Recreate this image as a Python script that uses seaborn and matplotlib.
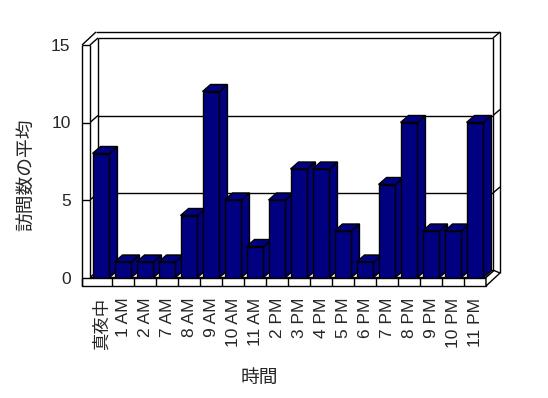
import matplotlib
matplotlib.use("Agg")
import matplotlib.pyplot as plt
import seaborn as sns
import pandas as pd
from matplotlib.patches import Polygon

hours = ['真夜中', '1 AM', '2 AM', '7 AM', '8 AM', '9 AM', '10 AM', '11 AM',
         '2 PM', '3 PM', '4 PM', '5 PM', '6 PM', '7 PM', '8 PM', '9 PM',
         '10 PM', '11 PM']
visits = [8, 1, 1, 1, 4, 12, 5, 2, 5, 7, 7, 3, 1, 6, 10, 3, 3, 10]
yticks = [0, 5, 10, 15]
xlabel = '時間'
ylabel = '訪問数の平均'

sns.set_style('white')
plt.rcParams['font.family'] = ['Liberation Sans', 'Noto Sans CJK JP', 'DejaVu Sans']

W, H = 548, 398
fig = plt.figure(figsize=(W / 100, H / 100), dpi=100)
ax_l, ax_r, ax_b, ax_t = 90, 486, 277.5, 45
ax = fig.add_axes([ax_l / W, (H - ax_b) / H, (ax_r - ax_l) / W, (ax_b - ax_t) / H])

df = pd.DataFrame({'hour': hours, 'visits': visits})
sns.barplot(data=df, x='hour', y='visits', color='#000080', saturation=1,
            width=0.77, edgecolor='black', linewidth=1, ax=ax)
bars = list(ax.patches)

x0, x1 = -0.5, len(hours) - 0.5
y0, y1 = 0, 15
ax.set_xlim(x0, x1)
ax.set_ylim(y0, y1)
ux = (x1 - x0) / (ax_r - ax_l)
uy = (y1 - y0) / (ax_b - ax_t)


def P(x, y, ox=0.0, oy=0.0):
    return (x + ox * ux, y + oy * uy)


def line(a, b, z=0.5):
    ax.plot([a[0], b[0]], [a[1], b[1]], color='black', lw=1,
            clip_on=False, zorder=z, solid_capstyle='butt')


DX, DY = 8, 7
F = 8.5
# back wall & gridlines
line(P(x0, y1, DX, DY), P(x0, y0, DX, DY))
line(P(x0, y1, DX, DY), P(x1, y1, DX - 1, DY))
line(P(x0, y1, 6, 13), P(x1, y1, 14, 13))
line(P(x1, y1, DX - 1, DY), P(x1, y1, 14, 13))
line(P(x1, y1, DX - 1, DY), P(x1, y0, DX - 1, DY))
line(P(x1, y1, 14, 13), P(x1, y0, 14, 4.5))
for v in yticks[1:-1]:
    line(P(x0, v), P(x0, v, DX, DY))
    line(P(x0, v, DX, DY), P(x1, v, DX - 1, DY))
    line(P(x1, v, DX - 1, DY), P(x1, v, 14, 13))

# floor top (behind bars)
ax.add_patch(Polygon([P(x0, y0), P(x1, y0), P(x1, y0, DX, DY), P(x0, y0, DX, DY)],
                     closed=True, facecolor='white', edgecolor='black', lw=1,
                     clip_on=False, zorder=0.8))

# 3D faces of bars
for i, b in enumerate(bars):
    b.set_zorder(3)
    b.set_clip_on(False)
    xl = b.get_x()
    xr = xl + b.get_width()
    h = b.get_height()
    side = Polygon([P(xr, 0), P(xr, h), P(xr, h, DX, DY), P(xr, 0, DX, DY)],
                   closed=True, facecolor='#000080', edgecolor='black', lw=1,
                   clip_on=False, zorder=1 + i * 0.05)
    top = Polygon([P(xl, h), P(xr, h), P(xr, h, DX, DY), P(xl, h, DX, DY)],
                  closed=True, facecolor='#000080', edgecolor='black', lw=1,
                  clip_on=False, zorder=1 + i * 0.05 + 0.01)
    ax.add_patch(side)
    ax.add_patch(top)

# floor front and side
ax.add_patch(Polygon([P(x0, y0, -8, 0), P(x1, y0), P(x1, y0, 0, -F), P(x0, y0, -8, -F)],
                     closed=True, facecolor='white', edgecolor='black', lw=1,
                     clip_on=False, zorder=5))
ax.add_patch(Polygon([P(x1, y0), P(x1, y0, 0, -F), P(x1, y0, 14, 4.5), P(x1, y0, DX, DY)],
                     closed=True, facecolor='white', edgecolor='black', lw=1,
                     clip_on=False, zorder=5))
for k in range(1, len(hours)):
    line(P(k - 0.5, y0), P(k - 0.5, y0, 0, -F), z=6)

# left wall
ax.add_patch(Polygon([P(x0, y1, -8, 0), P(x0, y1), P(x0, y0), P(x0, y0, -8, -F)],
                     closed=True, facecolor='white', edgecolor='none',
                     clip_on=False, zorder=4.5))
line(P(x0, y1, -8, 0), P(x0, y0, -8, -F), z=6)
line(P(x0, y1), P(x0, y0), z=6)
line(P(x0, y1, -8, 0), P(x0, y1), z=6)
line(P(x0, y1, -8, 0), P(x0, y1, 6, 13), z=6)
line(P(x0, y1), P(x0, y1, DX, DY), z=6)
for v in yticks[1:-1]:
    line(P(x0, v, -8, 0), P(x0, v, 0, 0), z=6)

for s in ax.spines.values():
    s.set_visible(False)
ax.grid(False)
ax.set_yticks(yticks)
ax.tick_params(axis='both', length=0, labelsize=12.5)
ax.tick_params(axis='y', pad=14)
ax.tick_params(axis='x', pad=14.5)
for t in ax.get_xticklabels():
    t.set_rotation(90)
    t.set_va('top')
    t.set_ha('center')
ax.set_xlabel(xlabel, fontsize=13.5, family=['Noto Sans CJK JP', 'DejaVu Sans'])
ax.set_ylabel(ylabel, fontsize=13.5, family=['Noto Sans CJK JP', 'DejaVu Sans'])
ax.xaxis.set_label_coords((259 - ax_l) / (ax_r - ax_l), -(367 - ax_b) / (ax_b - ax_t))
ax.yaxis.set_label_coords(-(ax_l - 37) / (ax_r - ax_l), (ax_b - 175) / (ax_b - ax_t))

fig.savefig('out.png', dpi=100)
